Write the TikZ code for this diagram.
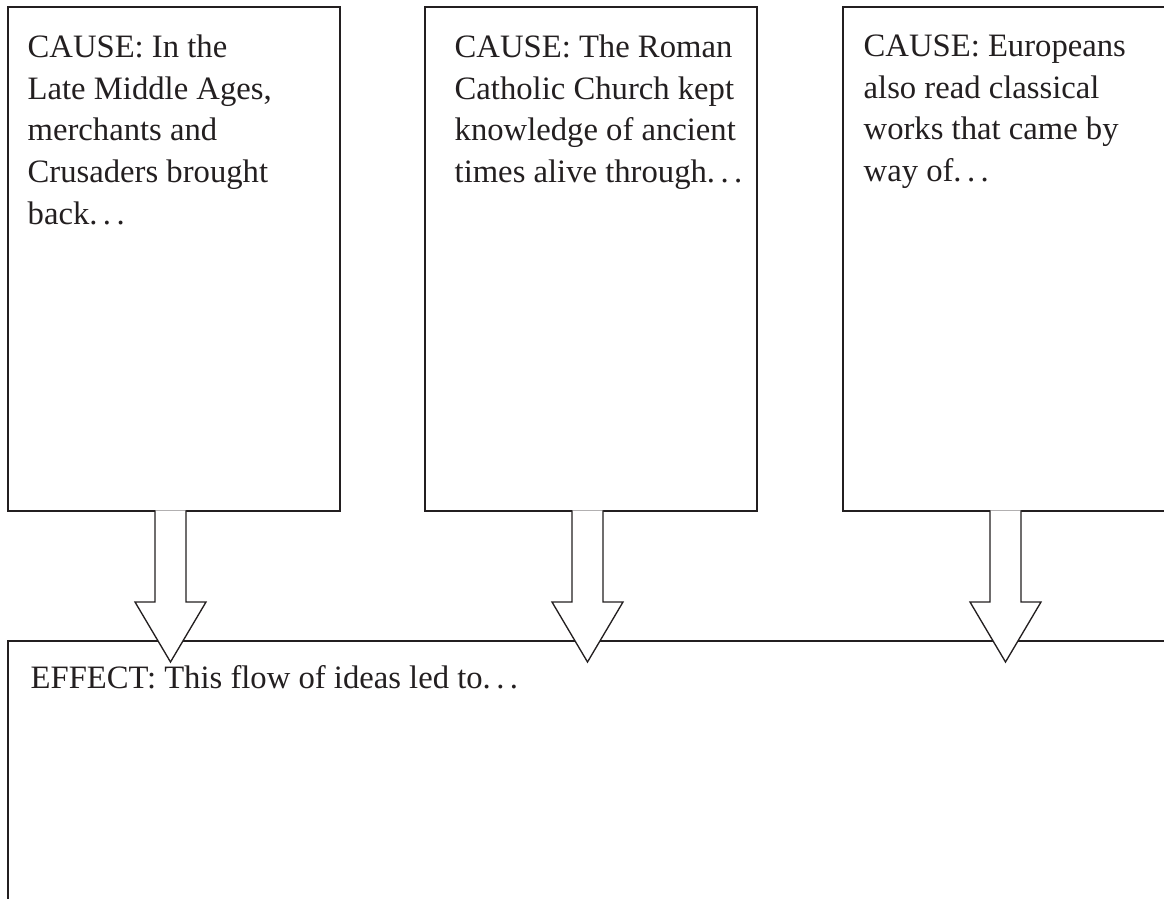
\documentclass[tikz,border=0pt]{standalone}
\usepackage{fontspec}
\setmainfont{Liberation Serif}
\definecolor{ink}{RGB}{35,31,32}

\tikzset{every picture/.style={line width=1pt}}
\tikzset{
  causebox/.style={draw=ink, anchor=north west, minimum width=249pt, minimum height=378pt, inner sep=0pt, outer sep=0pt},
  effectbox/.style={draw=ink, anchor=north west, minimum width=900pt, minimum height=225pt, inner sep=0pt, outer sep=0pt},
  boxtext/.style={align=left, inner sep=0pt, text=ink, font=\fontsize{24.5}{31.3}\selectfont},
  causearrow/.pic={
    \draw[ink, fill=white] (-15.5,0.7) -- (-15.5,-91) -- (-35.5,-91) -- (0,-151) -- (35.5,-91) -- (15.5,-91) -- (15.5,0.7);
  }
}

\begin{document}
\begin{tikzpicture}[x=0.75pt,y=0.75pt,yscale=-1,xscale=1]
	\useasboundingbox (0,0) rectangle (1164,899);
	\clip (0,0) rectangle (1164,899);

	%Shape: Rectangle (effect)
	\node[effectbox] (effect) at (8,641) {};

	%Shape: Rectangle (causes)
	\node[causebox] (cause1) at (8,7) {};
	\node[causebox] (cause2) at (425,7) {};
	\node[causebox] (cause3) at (843,7) {};

	%Shape: Block Arrows
	\pic at ([shift={(-3.5,0)}]cause1.south) {causearrow};
	\pic at ([shift={(-3.5,0)}]cause2.south) {causearrow};
	\pic at ([shift={(-3.5,0)}]cause3.south) {causearrow};

	% Text Node
	\node[boxtext, anchor=north west] (text1) at ([shift={(19,27)}]cause1.north west) {CAUSE: In the\\Late Middle Ages,\\merchants and\\Crusaders brought\\back.\,.\,.};
	% Text Node
	\node[boxtext, anchor=north west] (text2) at ([shift={(29,27)}]cause2.north west) {CAUSE: The Roman\\Catholic Church kept\\knowledge of ancient\\times alive through.\,.\,.};
	% Text Node
	\node[boxtext, anchor=north west] (text3) at ([shift={(20,27)}]cause3.north west) {CAUSE: Europeans\\also read classical\\works that came by\\way of.\,.\,.};
	% Text Node
	\node[boxtext, anchor=base west] (text4) at ([shift={(22,47)}]effect.north west) {EFFECT: This flow of ideas led to.\,.\,.};

\end{tikzpicture}
\end{document}
